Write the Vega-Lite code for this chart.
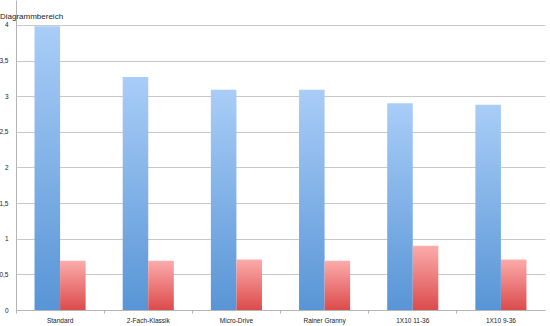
{
  "$schema": "https://vega.github.io/schema/vega-lite/v6.json",
  "width": 529,
  "height": 310,
  "autosize": {"type": "none"},
  "padding": {"left": 16, "top": 0, "right": 5, "bottom": 16},
  "background": "white",
  "title": {
    "text": "Diagrammbereich",
    "anchor": "start",
    "frame": "bounds",
    "offset": -21,
    "dx": 1,
    "font": "Liberation Sans",
    "fontSize": 8,
    "fontWeight": "normal",
    "color": "#222222"
  },
  "data": {
    "values": [
      {"category": "Standard", "series": "A", "value": 3.98},
      {"category": "Standard", "series": "B", "value": 0.69},
      {"category": "2-Fach-Klassik", "series": "A", "value": 3.27},
      {"category": "2-Fach-Klassik", "series": "B", "value": 0.69},
      {"category": "Micro-Drive", "series": "A", "value": 3.09},
      {"category": "Micro-Drive", "series": "B", "value": 0.71},
      {"category": "Rainer Granny", "series": "A", "value": 3.09},
      {"category": "Rainer Granny", "series": "B", "value": 0.69},
      {"category": "1X10 11-36", "series": "A", "value": 2.9},
      {"category": "1X10 11-36", "series": "B", "value": 0.9},
      {"category": "1X10 9-36", "series": "A", "value": 2.88},
      {"category": "1X10 9-36", "series": "B", "value": 0.71}
    ]
  },
  "mark": {"type": "bar", "strokeWidth": 0},
  "encoding": {
    "x": {
      "field": "category",
      "type": "nominal",
      "sort": null,
      "scale": {"paddingInner": 0, "paddingOuter": 0},
      "axis": {
        "title": null,
        "labelAngle": 0,
        "bandPosition": 0,
        "labelFont": "Liberation Sans",
        "labelFontSize": 6.5,
        "labelColor": "#222222",
        "labelPadding": 4,
        "tickSize": 3,
        "tickColor": "#b5b5b5",
        "domainColor": "#b5b5b5",
        "grid": false
      }
    },
    "xOffset": {
      "field": "series",
      "type": "nominal",
      "scale": {"paddingInner": 0, "paddingOuter": 0.725}
    },
    "y": {
      "field": "value",
      "type": "quantitative",
      "scale": {"domain": [0, 4.35], "nice": false, "zero": true},
      "axis": {
        "title": null,
        "values": [0, 0.5, 1, 1.5, 2, 2.5, 3, 3.5, 4],
        "labelExpr": "replace(format(datum.value, ''), '.', ',')",
        "labelFont": "Liberation Sans",
        "labelFontSize": 6.5,
        "labelColor": "#222222",
        "labelPadding": 8,
        "ticks": false,
        "domainColor": "#b5b5b5",
        "grid": true,
        "gridColor": "#c8c8c8"
      }
    },
    "color": {
      "condition": {
        "test": "datum.series === 'A'",
        "value": {
          "gradient": "linear", "x1": 0, "y1": 0, "x2": 0, "y2": 1,
          "stops": [{"offset": 0, "color": "#a9cdf7"}, {"offset": 1, "color": "#5895d6"}]
        }
      },
      "value": {
        "gradient": "linear", "x1": 0, "y1": 0, "x2": 0, "y2": 1,
        "stops": [{"offset": 0, "color": "#fcabab"}, {"offset": 1, "color": "#dc4b4b"}]
      }
    }
  },
  "config": {"view": {"stroke": null}}
}
